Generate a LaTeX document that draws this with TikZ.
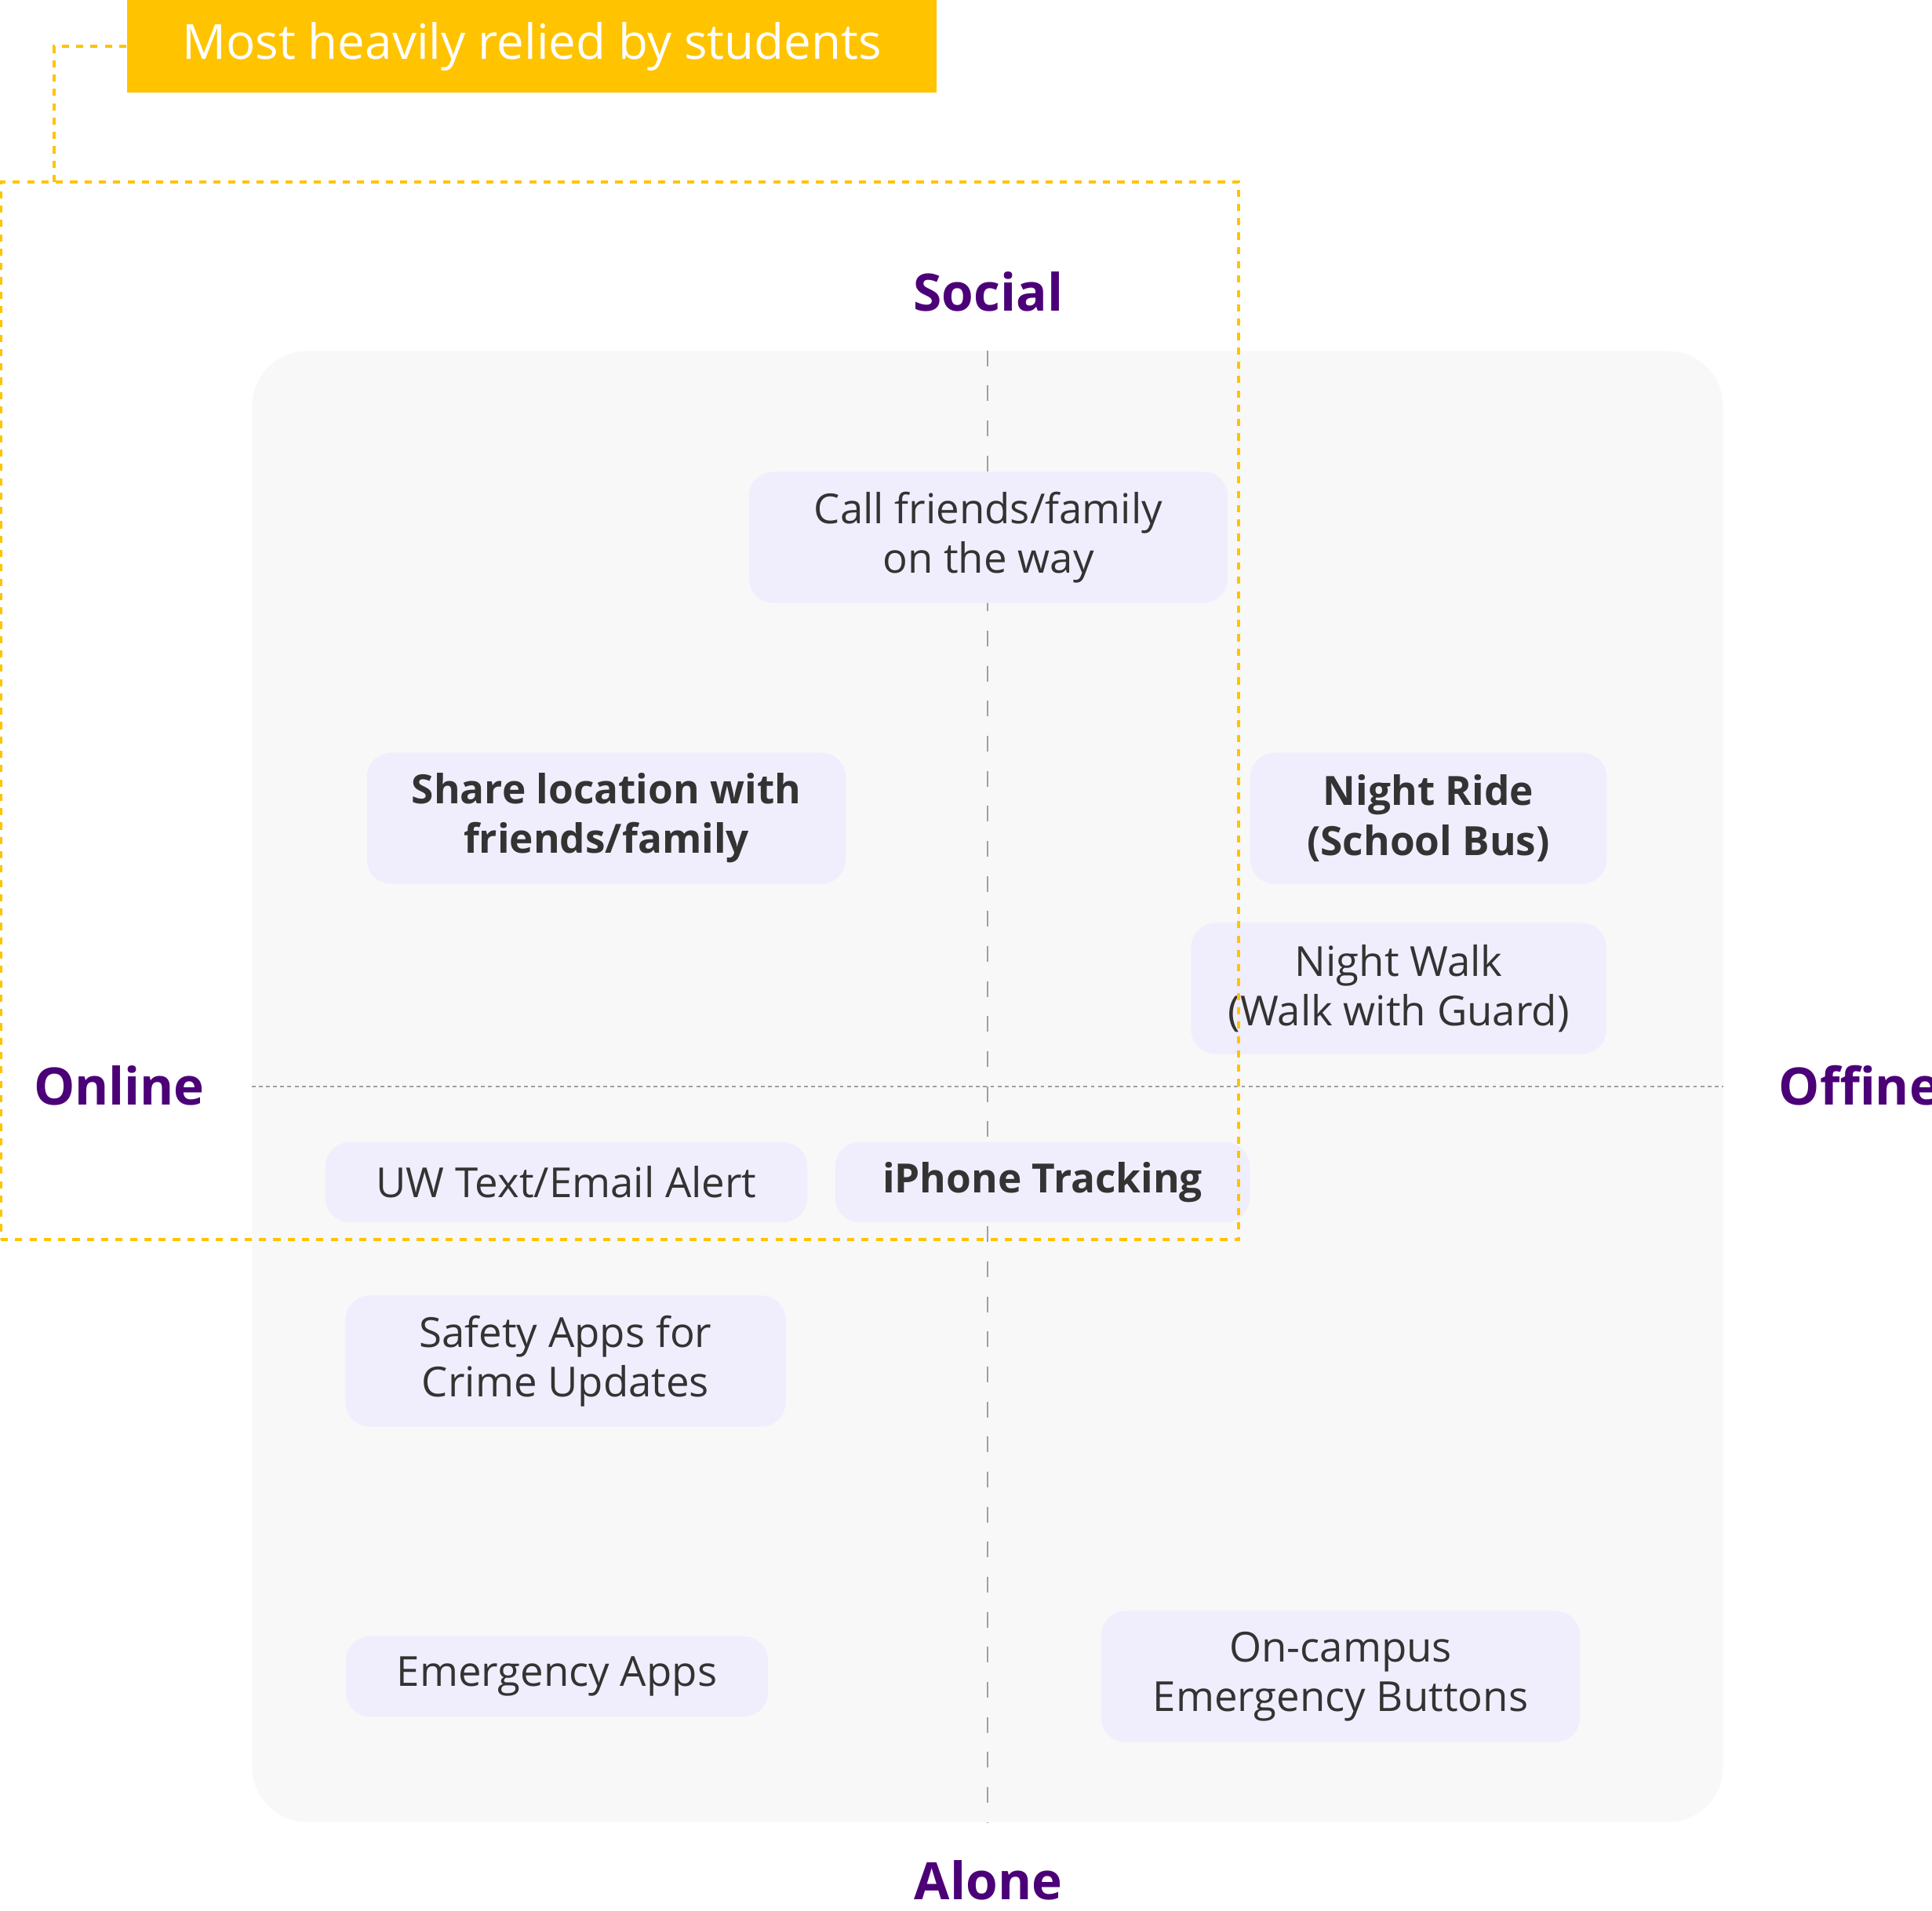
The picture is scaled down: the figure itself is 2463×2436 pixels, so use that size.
\documentclass[tikz,border=0pt]{standalone}
\usepackage{fontspec}
\setmainfont{Open Sans}
\definecolor{amarillo}{HTML}{FFC300}
\definecolor{fondo}{HTML}{F8F8F8}
\definecolor{lavanda}{HTML}{F0EEFC}
\definecolor{morado}{HTML}{4B0078}
\definecolor{tinta}{HTML}{333333}
\definecolor{rejilla}{HTML}{A0A0A0}
\begin{document}
\begin{tikzpicture}[x=0.01cm, y=-0.01cm,
every node/.style={font=\fontsize{15}{18}\selectfont, text=tinta},
panel/.style={fill=fondo, rounded corners=0.7cm, minimum width=18.74cm, minimum height=18.74cm},
caja/.style={fill=lavanda, rounded corners=0.31cm, align=center, inner sep=0pt},
negrita/.style={font=\fontsize{14.6}{18}\selectfont\bfseries},
alta/.style={minimum height=1.67cm},
baja/.style={minimum height=1.02cm},
eje/.style={font=\fontsize{18.7}{22}\selectfont\bfseries, text=morado},
rayav/.style={draw=rejilla, line width=0.6pt, dash pattern=on 5.7pt off 7pt},
rayah/.style={draw=rejilla, line width=0.6pt, dash pattern=on 1.4pt off 1.2pt},
grupo/.style={draw=amarillo, line width=1.1pt, dash pattern=on 2.6pt off 2.6pt, minimum width=15.77cm, minimum height=13.48cm},
guia/.style={draw=amarillo, line width=1.1pt, dash pattern=on 2.6pt off 2.6pt},
banner/.style={fill=amarillo, text=white, font=\fontsize{17.6}{21}\selectfont, minimum width=10.32cm, minimum height=1.18cm}
]
\useasboundingbox (0,0) rectangle (2463,2436);
% Cuadrante
\node[panel] (panel) at (1259,1385) {};
\draw[rayav] (panel.north) -- (panel.south);
\draw[rayah] (panel.west) -- (panel.east);
% Ejes
\node[eje] (social) at (1260,372) {Social};
\node[eje] (alone) at (1260,2397) {Alone};
\node[eje] (online) at (152,1384) {Online};
\node[eje, anchor=west, inner sep=0pt] (offline) at (2267,1384) {Offine};
% Estrategias
\node[caja, alta, minimum width=6.1cm] (call) at (1260,685) {Call friends/family\\on the way};
\node[caja, alta, negrita, minimum width=6.1cm] (share) at (773,1043) {Share location with\\friends/family};
\node[caja, alta, negrita, minimum width=4.54cm] (ride) at (1821,1043) {Night Ride\\(School Bus)};
\node[caja, alta, minimum width=5.29cm] (walk) at (1783,1260) {Night Walk\\(Walk with Guard)};
\node[caja, baja, minimum width=6.14cm] (alert) at (722,1507) {UW Text/Email Alert};
\node[caja, baja, negrita, minimum width=5.28cm] (iphone) at (1329,1507) {iPhone Tracking};
\node[caja, alta, minimum width=5.61cm] (safety) at (721,1735) {Safety Apps for\\Crime Updates};
\node[caja, baja, minimum width=5.38cm] (apps) at (710,2137) {Emergency Apps};
\node[caja, alta, minimum width=6.1cm] (buttons) at (1709,2137) {On-campus\\Emergency Buttons};
% Grupo
\node[grupo] (grupo) at (790,906) {};
\node[banner] (banner) at (678,59) {Most heavily relied by students};
\coordinate (enlace) at (69,232);
\draw[guia] (banner.west) -| (enlace);
\end{tikzpicture}
\end{document}
